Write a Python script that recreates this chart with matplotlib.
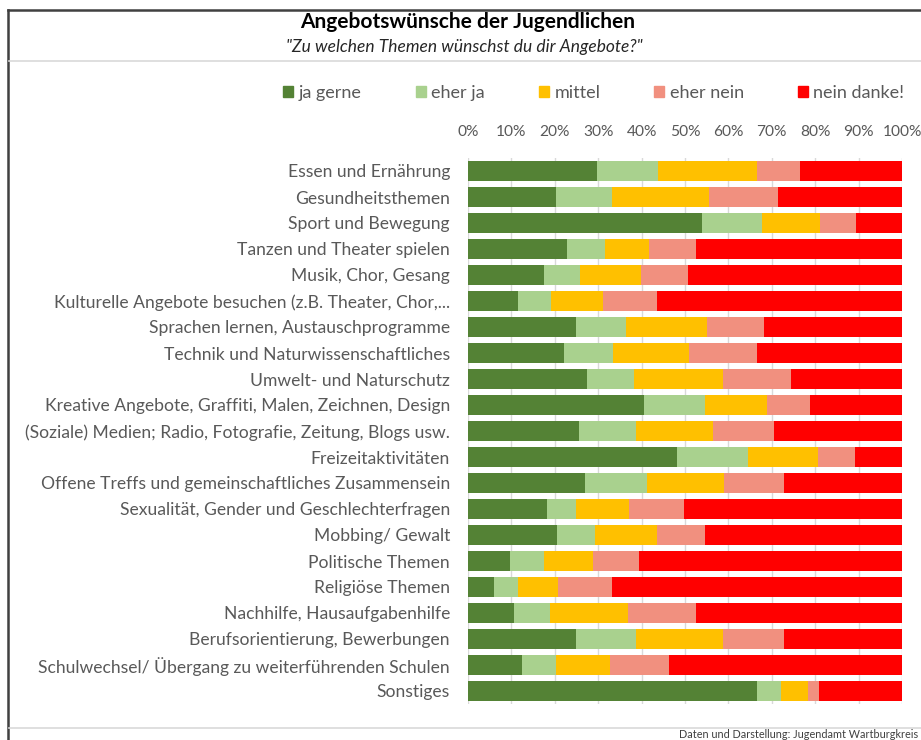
import numpy as np
import matplotlib.pyplot as plt
from matplotlib.lines import Line2D
from matplotlib.patches import Rectangle

plt.rcParams['font.family'] = ['Lato', 'DejaVu Sans']

categories = [
    "Essen und Ernährung",
    "Gesundheitsthemen",
    "Sport und Bewegung",
    "Tanzen und Theater spielen",
    "Musik, Chor, Gesang",
    "Kulturelle Angebote besuchen (z.B. Theater, Chor,...",
    "Sprachen lernen, Austauschprogramme",
    "Technik und Naturwissenschaftliches",
    "Umwelt- und Naturschutz",
    "Kreative Angebote, Graffiti, Malen, Zeichnen, Design",
    "(Soziale) Medien; Radio, Fotografie, Zeitung, Blogs usw.",
    "Freizeitaktivitäten",
    "Offene Treffs und gemeinschaftliches Zusammensein",
    "Sexualität, Gender und Geschlechterfragen",
    "Mobbing/ Gewalt",
    "Politische Themen",
    "Religiöse Themen",
    "Nachhilfe, Hausaufgabenhilfe",
    "Berufsorientierung, Bewerbungen",
    "Schulwechsel/ Übergang zu weiterführenden Schulen",
    "Sonstiges",
]

series_names = ["ja gerne", "eher ja", "mittel", "eher nein", "nein danke!"]

# shares in percent, one list per answer
ja_gerne = [29.8, 20.2, 53.9, 22.9, 17.5, 11.5, 24.8, 22.2, 27.4, 40.6, 25.5,
            48.2, 26.9, 18.3, 20.6, 9.7, 5.9, 10.5, 24.8, 12.5, 66.5]
eher_ja = [13.9, 13.0, 13.8, 8.6, 8.3, 7.6, 11.5, 11.3, 10.9, 14.0, 13.3,
           16.3, 14.3, 6.5, 8.7, 7.9, 5.6, 8.5, 14.0, 7.7, 5.6]
mittel = [22.8, 22.4, 13.5, 10.2, 14.0, 12.1, 18.7, 17.5, 20.5, 14.3, 17.7,
          16.1, 17.7, 12.3, 14.2, 11.1, 9.3, 17.8, 20.0, 12.5, 6.2]
eher_nein = [10.0, 15.8, 8.3, 10.8, 11.0, 12.4, 13.3, 15.5, 15.7, 9.9, 13.9,
             8.5, 13.9, 12.7, 11.1, 10.8, 12.4, 15.7, 14.0, 13.6, 2.5]
nein_danke = [23.5, 28.6, 10.5, 47.5, 49.2, 56.4, 31.7, 33.5, 25.5, 21.2, 29.6,
              10.9, 27.2, 50.2, 45.4, 60.5, 66.8, 47.5, 27.2, 53.7, 19.2]

colors = ["#548235", "#A9D18E", "#FFC000", "#F1907F", "#FF0000"]
text_grey = "#595959"

W, H = 921, 740
fig = plt.figure(figsize=(W / 100, H / 100), dpi=100)
fig.patch.set_facecolor("white")

# axes placed in pixel terms: x 468..902, y 158..704
ax = fig.add_axes([468 / W, 1 - 704 / H, (902 - 468) / W, (704 - 158) / H])

y = np.arange(len(categories))
left = np.zeros(len(categories))
for name, vals, col in zip(series_names,
                           [ja_gerne, eher_ja, mittel, eher_nein, nein_danke],
                           colors):
    vals = np.array(vals)
    ax.barh(y, vals, left=left, height=0.76, color=col, label=name, zorder=3)
    left += vals

ax.set_xlim(0, 100)
ax.set_ylim(len(categories) - 0.5, -0.5)
ax.set_xticks(np.arange(0, 101, 10))
ax.set_xticklabels([f"{v}%" for v in range(0, 101, 10)])
ax.xaxis.tick_top()
ax.tick_params(axis="x", length=0, pad=14, labelsize=11.2, colors=text_grey)
ax.set_yticks(y)
ax.set_yticklabels(categories)
ax.tick_params(axis="y", length=0, pad=13, labelsize=12.6, colors=text_grey)
ax.grid(axis="x", color="#D9D9D9", linewidth=1, zorder=0)
for s in ax.spines.values():
    s.set_visible(False)

# legend
handles = [Rectangle((0, 0), 1, 1, color=c) for c in colors]
fig.legend(handles, series_names, loc="center", ncol=5,
           bbox_to_anchor=(594 / W, 1 - 93 / H), frameon=False,
           fontsize=13, labelcolor=text_grey, handlelength=0.55,
           handleheight=0.55, handletextpad=0.3, columnspacing=3.0)

# title and subtitle
fig.text(468 / W, 1 - 22 / H, "Angebotswünsche der Jugendlichen",
         ha="center", va="center", fontsize=15, fontweight="bold",
         color="black")
fig.text(464 / W, 1 - 47 / H, "\"Zu welchen Themen wünschst du dir Angebote?\"",
         ha="center", va="center", fontsize=12.5, style="italic", color="#262626")

# frame and separator lines
fig.add_artist(Line2D([8 / W, 8 / W], [0, 1 - 10 / H], color="#404040", lw=1.8))
fig.add_artist(Line2D([8 / W, 1], [1 - 10 / H, 1 - 10 / H], color="#404040", lw=1.8))
fig.add_artist(Line2D([9 / W, 1], [1 - 61 / H, 1 - 61 / H], color="#D9D9D9", lw=1.2))
fig.add_artist(Line2D([9 / W, 1], [1 - 728 / H, 1 - 728 / H], color="#D9D9D9", lw=1.2))

fig.text(918 / W, 1 - 735 / H, "Daten und Darstellung: Jugendamt Wartburgkreis",
         ha="right", va="center", fontsize=7.8, color="#404040")

fig.savefig("out.png", dpi=100)
